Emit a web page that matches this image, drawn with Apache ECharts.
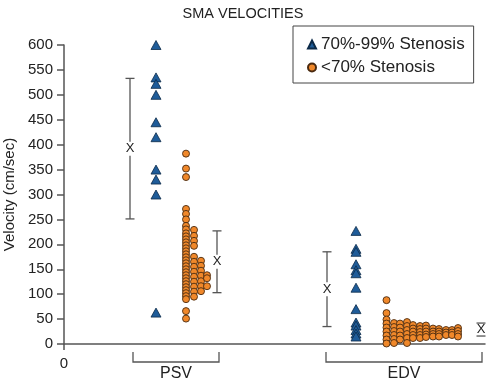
<!DOCTYPE html>
<html>
<head>
<meta charset="utf-8">
<script src="https://cdn.jsdelivr.net/npm/echarts@6/dist/echarts.min.js"></script>
<style>html,body{margin:0;padding:0;background:#fff}#c{width:486px;height:383px}</style>
</head>
<body>
<div id="c"></div>
<script>
// ---- data ----
const title = 'SMA VELOCITIES';
const yName = 'Velocity (cm/sec)';
const groups = ['PSV', 'EDV'];
const seriesNames = ['70%-99% Stenosis', '<70% Stenosis'];
const yTickMin = 0, yTickMax = 600, yTickStep = 50;

// 70%-99% stenosis (triangles)
const psvSevere = [600, 535, 522, 500, 445, 415, 350, 330, 300, 63];
const edvSevere = [227, 191, 185, 160, 148, 142, 113, 70, 43, 37, 28, 21, 15];

// <70% stenosis (circles), columns of the dot plot
const psvMildCol1 = [382, 352, 335, 271, 261, 250, 237, 230, 222, 216, 210, 204, 198, 192, 186, 180, 174, 168, 162, 156, 150, 144, 138, 132, 126, 120, 114, 108, 102, 96, 90, 66, 51];
const psvMildCol2 = [229, 217, 207, 197, 175, 165, 155, 145, 135, 125, 115, 105, 95];
const psvMildCol3 = [167, 157, 147, 137, 126, 116, 106];
const psvMildCol4 = [138, 132, 116];
const edvMildCol1 = [88, 62, 49, 41, 33, 25, 17, 9, 1];
const edvMildCol2 = [42, 34, 26, 18, 10, 2];
const edvMildCol3 = [41, 33, 25, 17, 9];
const edvMildCol4 = [44, 36, 28, 20, 12, 2];
const edvMildCol5 = [38, 31, 25, 18, 12];
const edvMildCol6 = [36, 30, 24, 18, 12];
const edvMildCol7 = [37, 31, 25, 19, 14];
const edvMildCol8 = [31, 25, 20, 15];
const edvMildCol9 = [30, 25, 20, 15];
const edvMildCol10 = [28, 23, 18];
const edvMildCol11 = [28, 23, 18];
const edvMildCol12 = [32, 26, 20, 15];

// mean and standard deviation bars
const sdMeans = [392, 165, 110, 29];
const sdDevs = [141, 62, 75, 13];

// ---- layout (x positions on a hidden value axis) ----
const xMax = 421;
const xPsvSevere = 92, xEdvSevere = 292;
const xPsvMildCols = [122, 130, 137, 143];
const xEdvMildCols = [322.5, 330, 336, 343, 349, 356, 362, 369, 375, 382, 388, 394];
const xSdBars = [66, 153, 263, 417];
const bracketStart = [69, 262], bracketEnd = [155, 418];

const psvMildCols = [psvMildCol1, psvMildCol2, psvMildCol3, psvMildCol4];
const edvMildCols = [edvMildCol1, edvMildCol2, edvMildCol3, edvMildCol4, edvMildCol5, edvMildCol6,
  edvMildCol7, edvMildCol8, edvMildCol9, edvMildCol10, edvMildCol11, edvMildCol12];

const severeData = psvSevere.map(v => [xPsvSevere, v]).concat(edvSevere.map(v => [xEdvSevere, v]));
const mildData = [];
psvMildCols.forEach((col, i) => col.forEach(v => mildData.push([xPsvMildCols[i], v])));
edvMildCols.forEach((col, i) => col.forEach(v => mildData.push([xEdvMildCols[i], v])));
const sdData = sdMeans.map((m, i) => [xSdBars[i], m, sdDevs[i]]);
const bracketData = groups.map((g, i) => [bracketStart[i], bracketEnd[i]]);

const FONT = '"Liberation Sans", Arial, Helvetica, sans-serif';
const AX = '#555';
const blue = '#1f5c99', orange = '#f0882a';

const chart = echarts.init(document.getElementById('c'), null, {renderer: 'canvas'});
chart.setOption({
  animation: false,
  backgroundColor: '#fff',
  textStyle: {fontFamily: FONT},
  title: {
    text: title, left: 'center', top: 1,
    textStyle: {fontFamily: FONT, fontSize: 14.5, fontWeight: 'normal', color: '#222'}
  },
  grid: {left: 64, right: 1, top: 45, bottom: 39, containLabel: false, outerBoundsMode: 'none'},
  legend: {
    orient: 'vertical', left: 293, top: 26,
    data: [{name: seriesNames[0], icon: 'triangle'}, {name: seriesNames[1], icon: 'circle'}],
    itemWidth: 8, itemHeight: 8, itemGap: 6,
    padding: [10, 9, 7, 14],
    borderColor: '#444', borderWidth: 1,
    textStyle: {fontFamily: FONT, fontSize: 17, color: '#222'}
  },
  xAxis: {
    type: 'value', min: 0, max: xMax, interval: 1000,
    splitLine: {show: false},
    axisLine: {show: true, onZero: false, lineStyle: {color: AX, width: 1.5}},
    axisTick: {show: true, length: 6, lineStyle: {color: AX, width: 1.5}},
    axisLabel: {show: true, showMaxLabel: false, fontSize: 15, color: '#222', margin: 12,
      formatter: v => (v === 0 ? '0' : '')}
  },
  yAxis: {
    type: 'value', min: yTickMin, max: yTickMax, interval: yTickStep,
    name: yName, nameLocation: 'middle', nameGap: 44,
    nameTextStyle: {fontFamily: FONT, fontSize: 15, color: '#222'},
    splitLine: {show: false},
    axisLine: {show: true, lineStyle: {color: AX, width: 1.5}},
    axisTick: {show: true, length: 7, lineStyle: {color: AX, width: 1.5}},
    axisLabel: {fontSize: 15, color: '#222', margin: 11}
  },
  series: [
    {
      name: seriesNames[0], type: 'scatter', data: severeData,
      symbol: 'triangle', symbolSize: [10, 9],
      itemStyle: {color: blue, borderColor: '#0c2a48', borderWidth: 0.8, opacity: 1},
      clip: false, z: 3
    },
    {
      name: seriesNames[1], type: 'scatter', data: mildData,
      symbol: 'circle', symbolSize: 7,
      itemStyle: {color: orange, borderColor: '#4a2a10', borderWidth: 0.9, opacity: 1},
      clip: false, z: 3
    },
    {
      type: 'custom', data: sdData, clip: false, z: 2,
      renderItem: function (params, api) {
        const x = api.value(0), m = api.value(1), s = api.value(2);
        const top = api.coord([x, m + s]), bot = api.coord([x, m - s]), mid = api.coord([x, m]);
        const cx = mid[0], gap = 7, cap = 4.5;
        const st = {stroke: AX, lineWidth: 1.3};
        const ch = [
          {type: 'line', shape: {x1: cx - cap, y1: top[1], x2: cx + cap, y2: top[1]}, style: st},
          {type: 'line', shape: {x1: cx - cap, y1: bot[1], x2: cx + cap, y2: bot[1]}, style: st},
          {type: 'text', style: {text: 'X', x: cx, y: mid[1], align: 'center', verticalAlign: 'middle',
            font: '13px ' + FONT, fill: '#222'}}
        ];
        if (mid[1] - gap > top[1]) ch.push({type: 'line', shape: {x1: cx, y1: top[1], x2: cx, y2: mid[1] - gap}, style: st});
        if (mid[1] + gap < bot[1]) ch.push({type: 'line', shape: {x1: cx, y1: mid[1] + gap, x2: cx, y2: bot[1]}, style: st});
        return {type: 'group', children: ch};
      }
    },
    {
      type: 'custom', data: bracketData, clip: false, z: 2,
      renderItem: function (params, api) {
        const a = api.coord([api.value(0), 0]), b = api.coord([api.value(1), 0]);
        const y0 = a[1] + 8, y1 = a[1] + 18;
        return {type: 'group', children: [
          {type: 'polyline', shape: {points: [[a[0], y0], [a[0], y1], [b[0], y1], [b[0], y0]]},
            style: {stroke: AX, lineWidth: 1.3, fill: null}},
          {type: 'text', style: {text: groups[params.dataIndex], x: (a[0] + b[0]) / 2, y: y1 + 12,
            align: 'center', verticalAlign: 'middle', font: '16px ' + FONT, fill: '#222'}}
        ]};
      }
    }
  ]
});
</script>
</body>
</html>
